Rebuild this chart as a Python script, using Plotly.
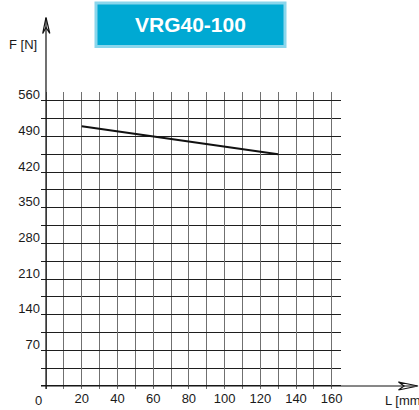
import plotly.graph_objects as go

# data
LENGTH_MM = [20, 130]
FORCE_N = [510, 455]

X_TICKS = [20, 40, 60, 80, 100, 120, 140, 160]
Y_TICKS = [70, 140, 210, 280, 350, 420, 490, 560]
X_GRID_STEP = 10
Y_GRID_STEP = 35

TITLE = "VRG40-100"
X_LABEL = "L [mm]"
Y_LABEL = "F [N]"

W, H = 419, 410
M_L, M_R, M_T, M_B = 41, 78, 92, 21
FONT = "Liberation Sans, Arial, sans-serif"
TEXT_COLOR = "#1a1a1a"


def px(x):
    return (x - M_L) / (W - M_L - M_R)


def py(y):
    return (H - M_B - y) / (H - M_T - M_B)


def path(points):
    return "M " + " L ".join(f"{px(x):.5f},{py(y):.5f}" for x, y in points)


def label(text, x, y, xanchor="center", size=13, color=TEXT_COLOR):
    fig.add_annotation(xref="paper", yref="paper", x=px(x), y=py(y),
                       xanchor=xanchor, yanchor="middle", text=text,
                       showarrow=False, font=dict(family=FONT, size=size, color=color))


fig = go.Figure()
fig.add_trace(go.Scatter(
    x=LENGTH_MM, y=FORCE_N, mode="lines",
    line=dict(color="#111111", width=2), showlegend=False,
))

fig.update_xaxes(
    range=[-2.8, 165.2], tickvals=X_TICKS, ticktext=[str(v) for v in X_TICKS],
    showgrid=True, gridcolor="#707070", gridwidth=1.4,
    minor=dict(dtick=X_GRID_STEP, tick0=0, showgrid=True, gridcolor="#707070", gridwidth=1.4),
    zeroline=False, showline=False, ticks="", automargin=False,
    tickfont=dict(family=FONT, size=13, color=TEXT_COLOR),
)
fig.update_yaxes(
    range=[-5.9, 577.1], tickvals=Y_TICKS, ticktext=[str(v) for v in Y_TICKS],
    showgrid=True, gridcolor="#1e1e1e", gridwidth=1,
    minor=dict(dtick=Y_GRID_STEP, tick0=0, showgrid=True, gridcolor="#1e1e1e", gridwidth=1),
    zeroline=False, showline=False, ticks="", ticklabelshift=-6, automargin=False,
    tickfont=dict(family=FONT, size=13, color=TEXT_COLOR),
)

axis_line = dict(color="#111111", width=1.2)
fig.add_shape(type="line", xref="paper", yref="paper",
              x0=px(46), y0=py(389), x1=px(46), y1=py(18), line=axis_line)
fig.add_shape(type="line", xref="paper", yref="paper",
              x0=px(41), y0=py(386), x1=px(417), y1=py(386), line=axis_line)
fig.add_shape(type="path", xref="paper", yref="paper",
              path=path([(42.7, 33.5), (46, 17.3), (49.8, 33.5), (46, 27.5)]) + " Z",
              line=axis_line)
fig.add_shape(type="path", xref="paper", yref="paper",
              path=path([(398.5, 382), (418, 386), (398.5, 390), (404, 386)]) + " Z",
              line=axis_line)

# title box
fig.add_shape(type="rect", xref="paper", yref="paper",
              x0=px(96), y0=py(3), x1=px(285), y1=py(46.5),
              fillcolor="#00a9d3", line=dict(color="#8ad6ec", width=3))
label(f"<b>{TITLE}</b>", 190.5, 24.5, size=21, color="white")

label(Y_LABEL, 38.5, 44, xanchor="right")
label(X_LABEL, 382.5, 400, xanchor="left")
label("0", 38.5, 400)

fig.update_layout(
    width=W, height=H,
    margin=dict(l=M_L, r=M_R, t=M_T, b=M_B, pad=0, autoexpand=False),
    plot_bgcolor="white", paper_bgcolor="white",
    showlegend=False,
)

fig.write_html("out.html", config={"displayModeBar": False},
               post_script="document.body.style.margin='0';")
